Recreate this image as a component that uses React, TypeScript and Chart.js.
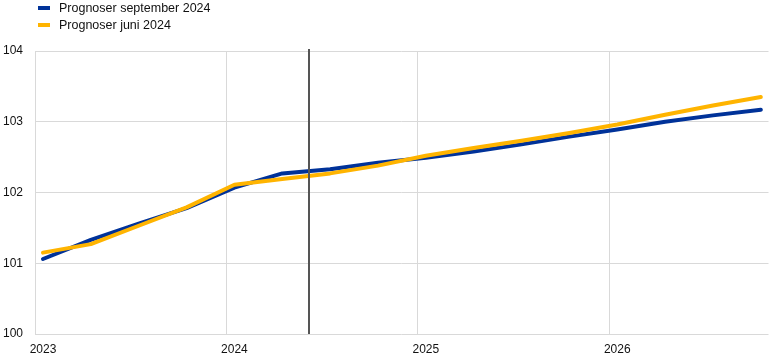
import React, { useEffect, useRef } from "react";
import { Chart, registerables } from "chart.js";

Chart.register(...registerables);

// Quarterly observations 2023Q1 – 2026Q4
const quarters = [
  "2023Q1", "2023Q2", "2023Q3", "2023Q4",
  "2024Q1", "2024Q2", "2024Q3", "2024Q4",
  "2025Q1", "2025Q2", "2025Q3", "2025Q4",
  "2026Q1", "2026Q2", "2026Q3", "2026Q4",
];
const yearLabels = ["2023", "2024", "2025", "2026"];
const septemberValues = [
  101.06, 101.33, 101.56, 101.78,
  102.07, 102.27, 102.33, 102.42,
  102.49, 102.58, 102.68, 102.79,
  102.89, 103.0, 103.09, 103.17,
];
const juneValues = [
  101.15, 101.27, 101.53, 101.79,
  102.11, 102.19, 102.27, 102.38,
  102.52, 102.63, 102.73, 102.84,
  102.96, 103.1, 103.23, 103.35,
];
const seriesLabels = ["Prognoser september 2024", "Prognoser juni 2024"];
const cutoffQuarter = 5.56; // position (in quarter index) of the vertical line
const yTicks = [100, 101, 102, 103, 104];

const FONT = "Arial, 'Liberation Sans', sans-serif";
const TEXT = "#111111";
const GRID = "#d9d9d9";

const legendPlugin = {
  id: "stackedLegend",
  afterDraw(chart: any) {
    const ctx = chart.ctx;
    ctx.save();
    ctx.font = `12.5px ${FONT}`;
    ctx.textBaseline = "middle";
    ctx.textAlign = "left";
    chart.data.datasets.forEach((ds: any, i: number) => {
      const y = 8 + i * 17;
      ctx.fillStyle = ds.borderColor;
      ctx.fillRect(38, y - 2, 12, 4);
      ctx.fillStyle = TEXT;
      ctx.fillText(ds.label, 59, y + 0.5);
    });
    ctx.restore();
  },
};

const cutoffPlugin = {
  id: "cutoffLine",
  afterDatasetsDraw(chart: any) {
    const { ctx, chartArea, scales } = chart;
    const x = Math.round(scales.x.getPixelForValue(cutoffQuarter));
    ctx.save();
    ctx.strokeStyle = "#555555";
    ctx.lineWidth = 2;
    ctx.beginPath();
    ctx.moveTo(x, chartArea.top - 2);
    ctx.lineTo(x, chartArea.bottom);
    ctx.stroke();
    ctx.restore();
  },
};

export default function App() {
  const canvasRef = useRef<HTMLCanvasElement | null>(null);

  useEffect(() => {
    if (!canvasRef.current) return;
    const chart = new Chart(canvasRef.current, {
      type: "line",
      data: {
        labels: quarters,
        datasets: [
          {
            label: seriesLabels[0],
            data: septemberValues.map((y, i) => ({ x: i, y })),
            borderColor: "#003299",
            backgroundColor: "#003299",
            borderWidth: 4,
            pointRadius: 0,
            tension: 0,
            borderCapStyle: "round",
            borderJoinStyle: "round",
            order: 1,
          },
          {
            label: seriesLabels[1],
            data: juneValues.map((y, i) => ({ x: i, y })),
            borderColor: "#FFB400",
            backgroundColor: "#FFB400",
            borderWidth: 4,
            pointRadius: 0,
            tension: 0,
            borderCapStyle: "round",
            borderJoinStyle: "round",
            order: 0,
          },
        ],
      },
      options: {
        responsive: false,
        animation: false,
        layout: { padding: { top: 51, left: 3, right: 10.5, bottom: 0 } },
        plugins: {
          legend: { display: false },
          tooltip: { enabled: false },
        },
        scales: {
          x: {
            type: "linear",
            min: -1 / 6,
            max: 15.16,
            afterBuildTicks: (axis: any) => {
              axis.ticks = yearLabels.map((_, k) => ({ value: k * 4 - 1 / 6 }));
            },
            afterFit: (s: any) => {
              s.height = 27;
            },
            ticks: {
              callback: (_v: any, i: number) => yearLabels[i],
              labelOffset: 8,
              padding: 8,
              maxRotation: 0,
              autoSkip: false,
              color: TEXT,
              font: { family: FONT, size: 12 },
            },
            grid: { color: GRID, lineWidth: 1, drawTicks: false },
            border: { display: false },
          },
          y: {
            type: "linear",
            min: 100,
            max: 104,
            afterBuildTicks: (axis: any) => {
              axis.ticks = yTicks.map((v) => ({ value: v }));
            },
            afterFit: (s: any) => {
              s.width = 32;
            },
            ticks: {
              crossAlign: "far",
              padding: 0,
              color: TEXT,
              font: { family: FONT, size: 12 },
              callback: (v: any) => String(v),
            },
            grid: { color: GRID, lineWidth: 1, drawTicks: false },
            border: { display: false },
          },
        },
      },
      plugins: [legendPlugin, cutoffPlugin],
    } as any);
    return () => chart.destroy();
  }, []);

  return (
    <div style={{ position: "fixed", left: 0, top: 0, width: 779, height: 361, background: "#fff" }}>
      <canvas ref={canvasRef} width={779} height={361} style={{ display: "block" }} />
    </div>
  );
}
